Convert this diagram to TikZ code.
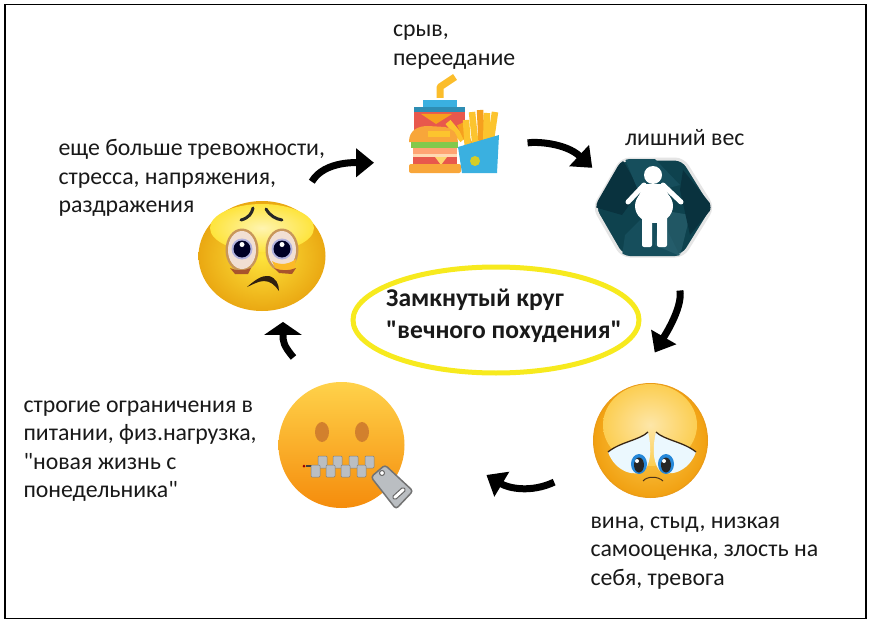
\documentclass[tikz,border=0pt]{standalone}
\usepackage{fontspec}
\setmainfont[Ligatures=TeXOff]{Carlito}
\usepackage{xcolor}
\usepackage{tikz}
\usetikzlibrary{arrows.meta,positioning,shapes.geometric}
\definecolor{ringyellow}{RGB}{247,234,30}
\definecolor{hexdark}{RGB}{14,66,78}
\definecolor{hexmid}{RGB}{22,78,92}
\definecolor{hexdeep}{RGB}{9,50,62}
\definecolor{hexlight}{RGB}{46,102,116}
\definecolor{lidblue}{RGB}{58,176,224}
\definecolor{cupred}{RGB}{232,88,76}
\definecolor{bunorange}{RGB}{248,166,58}
\definecolor{fryyellow}{RGB}{252,196,46}
\definecolor{fryorange}{RGB}{246,160,30}
\definecolor{zipgray}{RGB}{186,190,194}
\definecolor{worryin}{RGB}{254,228,60}
\definecolor{worryout}{RGB}{234,168,18}
\definecolor{sadin}{RGB}{252,206,82}
\definecolor{sadout}{RGB}{241,160,17}
\definecolor{zipin}{RGB}{255,210,74}
\definecolor{zipout}{RGB}{245,140,12}
\definecolor{eyewhite}{RGB}{241,223,211}
\definecolor{eyerim}{RGB}{200,150,90}
\definecolor{eyebag}{RGB}{168,84,44}
\tikzstyle{lbl}=[inner sep=0pt,outer sep=0pt,align=left,text=black!90,font=\fontsize{23.8}{28.5}\selectfont]
\tikzstyle{looplbl}=[lbl,font=\fontsize{25.6}{32}\selectfont\bfseries]
\tikzstyle{iconbox}=[rectangle,inner sep=0pt,outer sep=0pt]
\tikzstyle{face}=[ellipse,inner sep=0pt,outer sep=0pt,shading=radial]
\tikzstyle{arrow}=[-{Triangle[length=18pt,width=28pt]},line width=7pt,black]
\tikzstyle{brow}=[line width=3pt,line cap=round,black!85]
\tikzstyle{tooth}=[fill=zipgray,draw=black!50,line width=.5pt,rounded corners=1pt]
\begin{document}
\begin{tikzpicture}[x=1pt,y=-1pt]
      \useasboundingbox (0,0) rectangle (871,626);
      \fill[white] (0,0) rectangle (871,626);
      \draw[line width=1.3pt] (5,4.5) rectangle (866,618.5);
      \node[iconbox,minimum width=90pt,minimum height=96pt] (burger) at (454,125) {};
      \node[iconbox,minimum width=120pt,minimum height=99pt] (hexicon) at (653,207.5) {};
      \node[ellipse,draw=ringyellow,line width=5pt,minimum width=286pt,minimum height=106pt,inner sep=0pt,outer sep=0pt] (loopring) at (496,320) {};
      \node[face,minimum width=127pt,minimum height=110pt,inner color=worryin,outer color=worryout] (worryface) at (262,256) {};
      \node[face,minimum width=114pt,minimum height=114pt,draw=sadout!85!brown,line width=1pt,inner color=sadin,outer color=sadout] (sadface) at (650.5,440.5) {};
      \node[face,shading=axis,minimum width=126pt,minimum height=126pt,top color=zipin,bottom color=zipout] (zipface) at (341.5,445) {};
      \draw[line width=7pt,line join=round,fryyellow!80!fryorange] (440,98)--(440,87)--(455,77);
      \fill[lidblue] (423,100) rectangle (457,107);
      \fill[lidblue!80!black] (414,107) rectangle (465,112);
      \fill[cupred] (414,112) rectangle (465,135);
      \fill[fryorange] (421,114)--(452,114)--(436,124)--cycle;
      \foreach \xa/\ya/\xb/\yb/\col in {463/140/448/122/fryyellow,472/150/460/124/fryorange,468/150/466/120/fryyellow,476/150/472/112/fryyellow,482/150/480/110/fryorange,486/148/487/113/fryyellow,490/146/495/112/fryyellow}
        \draw[line width=6.5pt,\col] (\xa,\ya)--(\xb,\yb);
      \fill[bunorange] (409,142) .. controls (409,130) and (418,126) .. (428,126) -- (445,127) .. controls (454,129) and (458,135) .. (458,142) -- cycle;
      \fill[fryyellow] (428,131) rectangle (450,137);
      \fill[green!40!olive!70!white] (411,142) rectangle (458,148);
      \fill[red!30!orange!55!white] (413,148) rectangle (457,154);
      \fill[orange!30!white] (413,154) rectangle (457,157);
      \fill[cupred] (413,157) rectangle (457,165);
      \fill[fryyellow!70!white] (435,157)--(447,157)--(441,165)--cycle;
      \fill[bunorange,rounded corners=2pt] (409,164) rectangle (461,173);
      \fill[lidblue] (458,147)--(499,135)--(497,173)--(462,173)--cycle;
      \fill[fryyellow!85!green] (475,161) circle[radius=5];
      \draw[black!10,line width=3pt,fill=hexdark,rounded corners=8pt] (594,207.5)--(622,159)--(683,159)--(713,207.5)--(683,256)--(622,256)--cycle;
      \begin{scope}
        \clip[rounded corners=8pt] (594,207.5)--(622,159)--(683,159)--(713,207.5)--(683,256)--(622,256)--cycle;
        \fill[hexdeep] (594,207)--(622,159)--(640,190)--(622,215)--cycle;
        \fill[hexmid] (625,159)--(655,159)--(680,185)--(640,195)--cycle;
        \fill[hexmid] (622,256)--(625,235)--(655,205)--(680,256)--cycle;
        \fill[hexlight,opacity=.6] (660,210)--(690,215)--(680,256)--(655,245)--cycle;
        \fill[hexdeep] (683,170)--(713,207)--(690,235)--(680,190)--cycle;
      \end{scope}
      \fill[white] (653,175) circle[radius=9];
      \fill[white] (654,206) ellipse[x radius=19,y radius=17];
      \fill[white] (644,184)--(663,184)--(671,200)--(637,200)--cycle;
      \draw[white,line width=5pt,line cap=round] (644,185)--(628,202);
      \draw[white,line width=5pt,line cap=round] (663,185)--(681,202);
      \fill[white,rounded corners=2pt] (642,212) rectangle (652,247);
      \fill[white,rounded corners=2pt] (657,212) rectangle (667,247);
      \shade[inner color=worryin!40!white,outer color=worryin] (262,228) ellipse[x radius=52,y radius=24];
      \foreach \ex in {242,282}{
        \fill[eyerim] (\ex,250) ellipse[x radius=16.5,y radius=21.5];
        \fill[eyewhite] (\ex,250) ellipse[x radius=14,y radius=19];
        \fill[black!45!blue!30!white] (\ex,249) circle[radius=10.5];
        \fill[blue!15!black] (\ex,249) circle[radius=8.5];
        \fill[white] (\ex,244.5) circle[radius=2.5];
      }
      \fill[fryyellow!85!orange] (272,261) .. controls (280,266) and (290,264) .. (296,259) -- (294,270) -- (276,270) -- cycle;
      \fill[eyebag] (230,268) .. controls (236,271) and (244,271) .. (251,268) -- (248,274) -- (235,274) -- cycle;
      \fill[eyebag] (274,268) .. controls (281,271) and (289,271) .. (296,268) -- (292,274) -- (279,273) -- cycle;
      \draw[brow] (241,220) .. controls (249,218) and (252,213) .. (253,208);
      \draw[brow] (266,209) .. controls (270,216) and (276,219) .. (282,220);
      \fill[black!75!brown] (247,287) .. controls (255,280) and (262,275) .. (269,276) .. controls (276,278) and (279,284) .. (279,291) .. controls (275,285) and (270,281) .. (264,281) .. controls (258,281) and (252,285) .. (247,287) -- cycle;
      \shade[inner color=sadin!50!white,outer color=sadin] (650,425) ellipse[x radius=47,y radius=41];
      \fill[cyan!8!white] (608,452) .. controls (620,442) and (640,440) .. (648,432) .. controls (651,445) and (652,460) .. (645,470) .. controls (636,478) and (615,472) .. (608,452) -- cycle;
      \fill[cyan!8!white] (696,452) .. controls (684,442) and (664,440) .. (656,432) .. controls (653,445) and (652,460) .. (659,470) .. controls (668,478) and (689,472) .. (696,452) -- cycle;
      \draw[black!70!brown,line width=1.3pt] (608,452) .. controls (620,442) and (640,440) .. (648,432);
      \draw[black!70!brown,line width=1.3pt] (696,452) .. controls (684,442) and (664,440) .. (656,432);
      \foreach \ix in {639,666}{
        \fill[blue!45!cyan!70!gray] (\ix,464) ellipse[x radius=8,y radius=10];
        \fill[black!85] (\ix,465) ellipse[x radius=5,y radius=7.5];
        \fill[white] (\ix-2,461) circle[radius=2];
      }
      \draw[black!60!brown,line width=1pt] (643,481) .. controls (647,476) and (658,476) .. (663,481);
      \fill[brown!70!orange] (322,432) ellipse[x radius=7,y radius=10];
      \fill[brown!70!orange] (362,432) ellipse[x radius=7,y radius=10];
      \draw[black!75,line width=1.5pt] (306,466)--(372,466);
      \fill[red!60!black] (304,466) circle[radius=1.5];
      \foreach \tx in {318,333,349,365}
        \draw[tooth] (\tx,456) rectangle (\tx+9,468);
      \foreach \tx in {311,326,341,357}
        \draw[tooth] (\tx,465) rectangle (\tx+9,477);
      \draw[black!55,line width=1.5pt,fill=zipgray,rounded corners=3pt] (371,477)--(385,465)--(413,491)--(396,509)--cycle;
      \draw[black!60,line width=1pt,fill=white] (382,473) circle[radius=2.5];
      \draw[black!60,line width=1pt,fill=white,rounded corners=1.5pt] (392,497)--(403,487)--(406,490)--(395,500)--cycle;
      \node[lbl,above right=8pt and -16pt of burger.north west] (bingetxt) {срыв,\\переедание};
      \node[lbl,above right=12pt and -28pt of hexicon.north] (weighttxt) {лишний вес};
      \node[lbl,above left=-15.5pt and -63pt of worryface.north] (tensiontxt) {еще больше тревожности,\\стресса, напряжения,\\раздражения};
      \node[looplbl,xshift=8pt,yshift=4pt] (looptxt) at (loopring) {Замкнутый круг\\"вечного похудения"};
      \node[lbl,left=22pt of zipface,yshift=-6pt] (limitstxt) {строгие ограничения в\\питании, физ.нагрузка,\\"новая жизнь с\\понедельника"};
      \node[lbl,below right=19pt and -60pt of sadface.south] (guilttxt) {вина, стыд, низкая\\самооценка, злость на\\себя, тревога};
      \draw[arrow,shorten <=32pt,shorten >=35pt,out looseness=1.2] (worryface.54) to[out=60,in=180] (burger.220);
      \draw[arrow,shorten <=29pt,shorten >=1pt] (burger.-27) to[out=10,in=137] (hexicon.147);
      \draw[arrow,shorten <=34pt,shorten >=38pt] (hexicon.-67) to[out=-80,in=60] (sadface.105);
      \draw[arrow,shorten <=48pt,shorten >=100pt,out looseness=.95,in looseness=1.6] (sadface.202) to[out=-155,in=-31] (zipface.20);
      \draw[arrow,-{Triangle[length=13pt,width=37pt]},shorten <=38pt,shorten >=14pt,out looseness=1.6,in looseness=1] (zipface.112) to[out=130,in=-90] (worryface.-68);
    \end{tikzpicture}
\end{document}
